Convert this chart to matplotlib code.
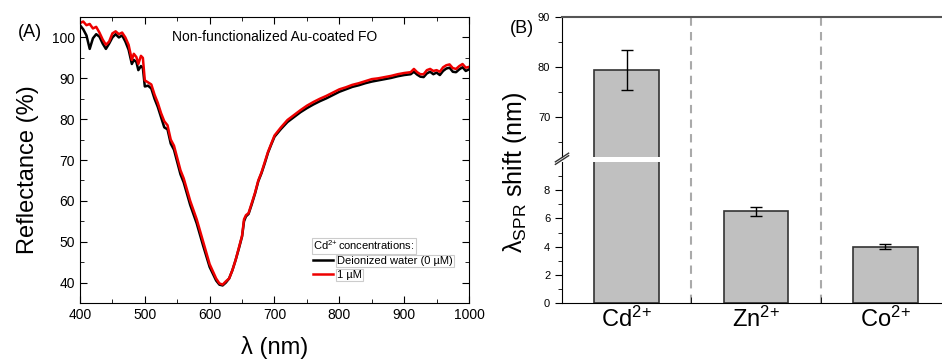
import numpy as np
import matplotlib
matplotlib.use("Agg")
import matplotlib.pyplot as plt
from matplotlib.ticker import MultipleLocator, FixedLocator

plt.rcParams['font.family'] = ['Liberation Sans', 'DejaVu Sans']
plt.rcParams['mathtext.fontset'] = 'custom'
plt.rcParams['mathtext.rm'] = 'Liberation Sans'
plt.rcParams['mathtext.it'] = 'Liberation Sans:italic'

# --- (A) spectra ---
wavelength = [400, 405, 410, 415, 420, 425, 430, 435, 440, 445, 450, 455, 460, 465, 470,
              475, 480, 483, 487, 490, 494, 497, 500, 505, 510, 515, 520, 525, 530, 535,
              540, 545, 550, 555, 560, 570, 580, 590, 600, 610, 615, 620, 625, 630, 635,
              640, 645, 650, 653, 656, 660, 665, 670, 675, 680, 685, 690, 695, 700, 710,
              720, 730, 740, 750, 760, 770, 780, 790, 800, 810, 820, 830, 840, 850, 860,
              870, 880, 890, 900, 910, 915, 920, 925, 930, 935, 940, 945, 950, 955, 960,
              965, 970, 975, 980, 985, 990, 995, 1000]
refl_1uM = [103.5, 103.9, 103.0, 103.3, 102.2, 102.6, 101.2, 99.5, 98.2, 99.0, 101.0, 101.5,
            100.8, 101.2, 100.0, 98.2, 94.5, 96.0, 95.2, 93.5, 95.5, 95.0, 89.5, 89.0, 88.5,
            86.0, 84.0, 81.5, 79.5, 78.5, 75.0, 73.5, 70.5, 67.5, 65.5, 60.0, 55.5, 50.0,
            44.5, 41.0, 39.8, 39.5, 40.3, 41.0, 43.0, 45.5, 48.5, 51.5, 55.5, 56.5, 57.0,
            59.5, 62.0, 65.0, 67.0, 69.5, 72.0, 74.0, 76.0, 78.0, 79.8, 81.0, 82.2, 83.3,
            84.2, 85.0, 85.7, 86.5, 87.3, 87.8, 88.4, 88.8, 89.3, 89.8, 90.0, 90.3, 90.6,
            91.0, 91.3, 91.5, 92.3, 91.5, 91.0, 91.0, 92.0, 92.3, 91.8, 92.0, 91.6, 92.7,
            93.2, 93.4, 92.5, 92.3, 93.0, 93.5, 92.6, 92.8]
refl_water = [103.0, 102.0, 100.5, 97.2, 99.8, 100.8, 100.2, 98.5, 97.2, 98.5, 100.0, 100.8,
              100.0, 100.5, 99.0, 97.0, 93.5, 94.5, 94.0, 92.0, 93.0, 92.5, 88.0, 88.2, 87.5,
              85.0, 83.0, 80.5, 78.0, 77.5, 74.0, 72.5, 69.5, 66.5, 64.5, 59.0, 54.5, 49.0,
              43.8, 40.5, 39.5, 39.3, 40.0, 41.0, 43.0, 45.5, 48.3, 51.3, 55.0, 56.2, 56.8,
              59.2, 61.8, 64.8, 66.8, 69.2, 71.8, 73.8, 75.7, 77.6, 79.3, 80.5, 81.7, 82.7,
              83.6, 84.4, 85.1, 85.9, 86.7, 87.3, 87.9, 88.3, 88.8, 89.2, 89.5, 89.8, 90.1,
              90.5, 90.8, 91.0, 91.6, 90.9, 90.4, 90.3, 91.2, 91.6, 91.0, 91.4, 90.8, 91.8,
              92.4, 92.6, 91.6, 91.5, 92.2, 92.7, 91.8, 92.2]

# --- (B) SPR shift ---
ions = ['$\\mathregular{Cd^{2\\!+}}$', '$\\mathregular{Zn^{2\\!+}}$',
        '$\\mathregular{Co^{2\\!+}}$']
shift = [79.4, 6.5, 4.0]
shift_err = [3.95, 0.33, 0.2]

fig = plt.figure(figsize=(9.42, 3.6), dpi=100)

# ---------- panel A ----------
ax = fig.add_axes([0.0849, 0.1583, 0.4130, 0.7944])
ax.plot(wavelength, refl_water, color='black', lw=1.8, label='Deionized water (0 µM)')
ax.plot(wavelength, refl_1uM, color='#ee0000', lw=1.8, label='1 µM')
ax.set_xlim(400, 1000)
ax.set_ylim(35, 105)
ax.xaxis.set_major_locator(MultipleLocator(100))
ax.xaxis.set_minor_locator(MultipleLocator(50))
ax.yaxis.set_minor_locator(MultipleLocator(5))
ax.set_yticks([40, 50, 60, 70, 80, 90, 100])
ax.tick_params(which='both', direction='in', top=True, right=True, labelsize=10)
ax.tick_params(which='major', length=5)
ax.tick_params(which='minor', length=3)
ax.text(0.5, 0.93, 'Non-functionalized Au-coated FO', transform=ax.transAxes,
        ha='center', va='center', fontsize=10)
leg = ax.legend(loc='upper left', bbox_to_anchor=(0.6, 0.225), frameon=False,
                title='$\\mathregular{Cd^{2\\!+}}$concentrations:', fontsize=8,
                title_fontsize=8, handlelength=1.8, handletextpad=0.3, labelspacing=0.35,
                borderpad=0, borderaxespad=0)
leg._legend_box.align = 'left'
for t in leg.get_texts() + [leg.get_title()]:
    t.set_bbox(dict(facecolor='white', edgecolor='#cccccc', lw=0.8, pad=0.8))

fig.text(0.019, 0.91, '(A)', fontsize=13, ha='left', va='center')
fig.text(0.03, 0.53, 'Reflectance (%)', fontsize=17, rotation=90, ha='center', va='center')
fig.text(0.292, 0.035, 'λ (nm)', fontsize=17, ha='center', va='center')

# ---------- panel B (broken axis) ----------
x = np.arange(len(ions))
axu = fig.add_axes([0.5966, 0.5639, 0.412, 0.3889])
axl = fig.add_axes([0.5966, 0.1583, 0.412, 0.3917])
for a in (axu, axl):
    a.bar(x, shift, width=0.5, color='#c0c0c0', edgecolor='#333333', lw=1.2, zorder=2)
    a.errorbar(x, shift, yerr=shift_err, fmt='none', ecolor='black', elinewidth=1,
               capsize=4, capthick=1, zorder=3)
    for xs in (0.5, 1.5):
        a.axvline(xs, color='#aaaaaa', ls=(0, (4, 3)), lw=1.5, zorder=1)
    a.set_xlim(-0.5, 2.5)
    a.spines['right'].set_visible(False)
    a.tick_params(which='both', direction='out', labelsize=8)
    a.tick_params(which='major', length=5)
    a.tick_params(which='minor', length=3)

axu.set_ylim(62, 90)
axu.yaxis.set_major_locator(FixedLocator([70, 80, 90]))
axu.yaxis.set_minor_locator(FixedLocator([65, 75, 85]))
axu.spines['bottom'].set_visible(False)
axu.spines['top'].set_color('#555555')
axu.spines['top'].set_linewidth(1.5)
axu.set_xticks([])

axl.set_ylim(0, 10)
axl.yaxis.set_major_locator(FixedLocator([0, 2, 4, 6, 8]))
axl.yaxis.set_minor_locator(FixedLocator([1, 3, 5, 7, 9]))
axl.spines['top'].set_visible(False)
axl.set_xticks(x)
axl.set_xticklabels(ions, fontsize=17)
axl.tick_params(axis='x', which='major', length=0, pad=3)
axl.xaxis.set_minor_locator(FixedLocator([0.5, 1.5]))
axl.tick_params(axis='x', which='minor', direction='in', length=4)

# break marks on the left spine
kw = dict(transform=fig.transFigure, color='#333333', lw=1, clip_on=False)
for yb in (0.5625, 0.5555):
    fig.add_artist(plt.Line2D([0.5966 - 0.007, 0.5966 + 0.007], [yb - 0.012, yb + 0.012], **kw))

fig.text(0.541, 0.92, '(B)', fontsize=13, ha='left', va='center')
fig.text(0.547, 0.52, 'λ$_{\\rm SPR}$ shift (nm)', fontsize=18, rotation=90,
         ha='center', va='center')

fig.savefig('out.png', dpi=100)
